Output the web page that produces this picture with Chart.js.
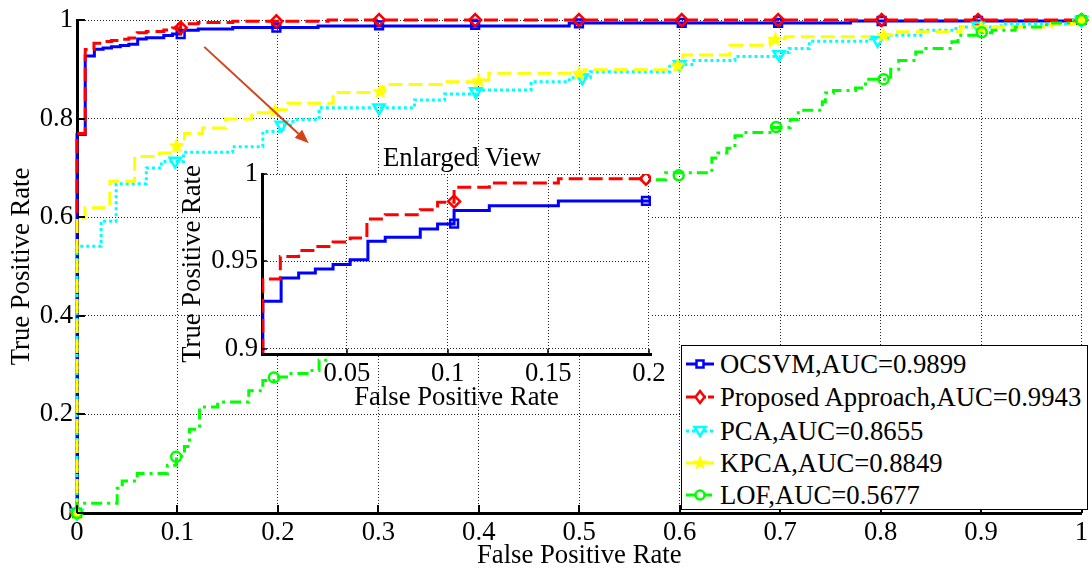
<!DOCTYPE html>
<html>
<head>
<meta charset="utf-8">
<script src="https://cdn.jsdelivr.net/npm/chart.js@4/dist/chart.umd.min.js"></script>
<style>
  html, body { margin: 0; padding: 0; background: #fff; }
  #wrap { position: relative; width: 1092px; height: 572px; overflow: hidden;
          font-family: "Liberation Serif", "Times New Roman", serif; color: #000; }
  #main { position: absolute; left: 0; top: 0; }
  #inset { position: absolute; left: 171px; top: 130px; }
  #insetTitle { position: absolute; left: 362px; top: 142px; width: 200px; text-align: center;
                font-size: 26.7px; line-height: 30px; white-space: nowrap; }
  #legend { position: absolute; left: 681px; top: 345px; width: 407px; height: 165px;
            box-sizing: border-box; background: #fff; border: 1px solid #000; font-size: 26.7px; }
  .row { position: absolute; left: 4px; height: 30px; line-height: 30px; white-space: nowrap; }
  .row svg { position: absolute; left: 0; top: 5px; }
  .row span { position: absolute; left: 34px; top: 0; }
</style>
</head>
<body>
<div id="wrap">
  <canvas id="main" width="1092" height="572"></canvas>
  <canvas id="inset" width="509" height="290"></canvas>
  <div id="insetTitle">Enlarged View</div>
  <div id="legend"></div>
</div>
<script>
// tick values / labels
const xTicks = [0, 0.1, 0.2, 0.3, 0.4, 0.5, 0.6, 0.7, 0.8, 0.9, 1];
const xTickLabels = ['0', '0.1', '0.2', '0.3', '0.4', '0.5', '0.6', '0.7', '0.8', '0.9', '1'];
const yTicks = [0, 0.2, 0.4, 0.6, 0.8, 1];
const yTickLabels = ['0', '0.2', '0.4', '0.6', '0.8', '1'];
const insetXTicks = [0.05, 0.1, 0.15, 0.2];
const insetXTickLabels = ['0.05', '0.1', '0.15', '0.2'];
const insetYTicks = [0.9, 0.95, 1];
const insetYTickLabels = ['0.9', '0.95', '1'];

const seriesNames = ['OCSVM,AUC=0.9899', 'Proposed Approach,AUC=0.9943', 'PCA,AUC=0.8655',
                     'KPCA,AUC=0.8849', 'LOF,AUC=0.5677'];

// ROC curves (FPR, TPR)
const ocsvmFpr = [0, 0, 0.0082, 0.0173, 0.026, 0.0343, 0.0431, 0.0516, 0.0604, 0.069, 0.0864, 0.095, 0.1032, 0.1207, 0.155, 0.24, 0.49, 0.77, 1.0];
const ocsvmTpr = [0, 0.768, 0.9272, 0.9406, 0.9434, 0.9457, 0.9482, 0.951, 0.9615, 0.9638, 0.9686, 0.9714, 0.9792, 0.9819, 0.9846, 0.988, 0.994, 0.998, 1.0];

const propFpr = [0, 0, 0.0082, 0.0169, 0.026, 0.0343, 0.0431, 0.0516, 0.0599, 0.069, 0.0864, 0.095, 0.1032, 0.1207, 0.155, 0.25, 1.0];
const propTpr = [0, 0.770, 0.940, 0.9529, 0.9563, 0.9586, 0.9611, 0.9634, 0.9743, 0.9767, 0.9796, 0.9838, 0.9924, 0.9949, 0.9973, 1.0, 1.0];

const pcaFpr = [0, 0, 0.024, 0.039, 0.069, 0.084, 0.106, 0.155, 0.185, 0.205, 0.215, 0.241, 0.336, 0.366, 0.397, 0.452, 0.49, 0.511, 0.59, 0.614, 0.655, 0.70, 0.709, 0.729, 0.79, 0.81, 0.84, 0.875, 0.92, 0.99, 1.0];
const pcaTpr = [0, 0.541, 0.592, 0.668, 0.700, 0.713, 0.732, 0.743, 0.774, 0.787, 0.798, 0.822, 0.838, 0.850, 0.858, 0.875, 0.883, 0.895, 0.910, 0.918, 0.926, 0.934, 0.942, 0.957, 0.963, 0.969, 0.979, 0.986, 0.992, 1.0, 1.0];

const kpcaFpr = [0, 0, 0.008, 0.0327, 0.0574, 0.082, 0.099, 0.107, 0.125, 0.148, 0.174, 0.197, 0.21, 0.255, 0.305, 0.365, 0.40, 0.41, 0.505, 0.599, 0.603, 0.65, 0.69, 0.705, 0.80, 0.812, 0.88, 0.97, 1.0];
const kpcaTpr = [0, 0.599, 0.619, 0.673, 0.723, 0.73, 0.747, 0.77, 0.781, 0.799, 0.812, 0.818, 0.831, 0.853, 0.869, 0.875, 0.878, 0.892, 0.899, 0.909, 0.929, 0.949, 0.962, 0.966, 0.970, 0.976, 0.986, 0.993, 1.0];

const lofFpr = [0, 0, 0.04, 0.045, 0.06, 0.09, 0.099, 0.107, 0.112, 0.122, 0.14, 0.171, 0.185, 0.196, 0.211, 0.231, 0.241, 0.25, 0.30, 0.40, 0.50, 0.565, 0.586, 0.632, 0.638, 0.647, 0.655, 0.663, 0.69, 0.71, 0.718, 0.742, 0.745, 0.753, 0.775, 0.785, 0.81, 0.818, 0.835, 0.845, 0.871, 0.877, 0.90, 0.911, 0.934, 0.965, 0.99, 1.0];
const lofTpr = [0, 0.02, 0.05, 0.065, 0.08, 0.097, 0.115, 0.135, 0.17, 0.215, 0.225, 0.248, 0.269, 0.276, 0.283, 0.289, 0.31, 0.33, 0.42, 0.55, 0.64, 0.676, 0.69, 0.72, 0.73, 0.74, 0.765, 0.772, 0.782, 0.798, 0.817, 0.834, 0.852, 0.857, 0.862, 0.88, 0.90, 0.918, 0.935, 0.942, 0.956, 0.969, 0.974, 0.979, 0.986, 0.994, 0.998, 1.0];

// marker positions on each curve
const ocsvmMarkFpr = [0, 0.1032, 0.1985, 0.3007, 0.3964, 0.4997, 0.602, 0.698, 0.801, 0.897, 1];
const ocsvmMarkTpr = [0, 0.9716, 0.9846, 0.989, 0.990, 0.993, 0.994, 0.994, 0.998, 0.998, 1];
const propMarkFpr = [0, 0.1032, 0.1985, 0.3007, 0.3964, 0.4997, 0.602, 0.698, 0.801, 0.897, 1];
const propMarkTpr = [0, 0.9843, 0.9973, 1, 1, 1, 1, 1, 1, 1, 1];
const pcaMarkFpr = [0, 0.0977, 0.2035, 0.3007, 0.397, 0.503, 0.60, 0.699, 0.797, 0.897, 1];
const pcaMarkTpr = [0, 0.714, 0.787, 0.822, 0.855, 0.883, 0.91, 0.93, 0.959, 0.988, 1];
const kpcaMarkFpr = [0, 0.099, 0.197, 0.3017, 0.40, 0.4997, 0.598, 0.695, 0.803, 0.90, 1];
const kpcaMarkTpr = [0, 0.746, 0.817, 0.856, 0.878, 0.893, 0.909, 0.962, 0.970, 0.986, 1];
const lofMarkFpr = [0, 0.0987, 0.196, 0.30, 0.40, 0.50, 0.599, 0.696, 0.803, 0.9007, 1];
const lofMarkTpr = [0, 0.114, 0.275, 0.42, 0.55, 0.64, 0.685, 0.783, 0.88, 0.975, 1];

const pts = (xs, ys) => xs.map((x, i) => ({ x: x, y: ys[i] }));

const serif = "'Liberation Serif', 'Times New Roman', serif";
Chart.defaults.font.family = serif;
Chart.defaults.font.size = 26.7;
Chart.defaults.color = '#000';

// filled five point star, used as point style for KPCA
function starImage(r, color) {
  const c = document.createElement('canvas');
  const s = Math.ceil(r * 2 + 2);
  c.width = c.height = s;
  const g = c.getContext('2d');
  g.fillStyle = color;
  g.beginPath();
  for (let i = 0; i < 10; i++) {
    const rr = i % 2 ? r * 0.42 : r;
    const a = -Math.PI / 2 + i * Math.PI / 5;
    g.lineTo(s / 2 + rr * Math.cos(a), s / 2 + rr * Math.sin(a) + 0.8);
  }
  g.closePath();
  g.fill();
  return c;
}
const star = starImage(8.5, '#ffff00');

const styles = {
  ocsvm: { color: '#0000ff', dash: [], width: 3, point: 'rect', radius: 5.5 },
  prop:  { color: '#ff0000', dash: [14, 6], width: 3, point: 'rectRot', radius: 6 },
  pca:   { color: '#00ffff', dash: [3, 3], width: 3, point: 'triangle', radius: 6.5, rot: 180 },
  kpca:  { color: '#ffff00', dash: [14, 6], width: 3, point: star, radius: 8 },
  lof:   { color: '#00ff00', dash: [11, 5, 3, 5], width: 3, point: 'circle', radius: 5 }
};

function lineSet(xs, ys, st, order, clip) {
  return {
    data: pts(xs, ys), stepped: 'before', borderColor: st.color, borderWidth: st.width,
    borderDash: st.dash, pointRadius: 0, fill: false, order: order, clip: clip
  };
}
function markSet(xs, ys, st, order, clip) {
  return {
    data: pts(xs, ys), showLine: false, pointStyle: st.point, pointRadius: st.radius,
    pointRotation: st.rot || 0, pointBorderColor: st.color, pointBackgroundColor: 'rgba(255,255,255,0)',
    pointBorderWidth: 2.5, order: order, clip: clip
  };
}

// MATLAB style tick marks pointing into the axes
const inwardTicks = {
  id: 'inwardTicks',
  afterDraw(chart, args, opts) {
    const { ctx, chartArea: a, scales: { x, y } } = chart;
    ctx.save();
    ctx.strokeStyle = '#000';
    ctx.lineWidth = opts.width;
    ctx.beginPath();
    x.ticks.forEach(t => {
      const px = Math.round(x.getPixelForValue(t.value));
      ctx.moveTo(px, a.bottom); ctx.lineTo(px, a.bottom - opts.length);
    });
    y.ticks.forEach(t => {
      const py = Math.round(y.getPixelForValue(t.value));
      ctx.moveTo(a.left, py); ctx.lineTo(a.left + opts.length, py);
    });
    ctx.stroke();
    ctx.restore();
  }
};

// white face for the inset axes
const insetFace = {
  id: 'insetFace',
  beforeDraw(chart) {
    const { ctx, chartArea: a } = chart;
    ctx.save();
    ctx.fillStyle = '#fff';
    ctx.fillRect(a.left, a.top, a.right - a.left, a.bottom - a.top);
    ctx.restore();
  }
};

// pointer arrow towards the inset
const arrow = {
  id: 'arrow',
  afterDatasetsDraw(chart, args, opts) {
    const { ctx, scales: { x, y } } = chart;
    const x0 = x.getPixelForValue(opts.from[0]), y0 = y.getPixelForValue(opts.from[1]);
    const x1 = x.getPixelForValue(opts.to[0]), y1 = y.getPixelForValue(opts.to[1]);
    const ang = Math.atan2(y1 - y0, x1 - x0);
    const hl = 14, hw = 5.5;
    ctx.save();
    ctx.strokeStyle = opts.color; ctx.fillStyle = opts.color; ctx.lineWidth = 2;
    ctx.beginPath();
    ctx.moveTo(x0, y0);
    ctx.lineTo(x1 - hl * Math.cos(ang), y1 - hl * Math.sin(ang));
    ctx.stroke();
    ctx.beginPath();
    ctx.moveTo(x1, y1);
    ctx.lineTo(x1 - hl * Math.cos(ang) + hw * Math.sin(ang), y1 - hl * Math.sin(ang) - hw * Math.cos(ang));
    ctx.lineTo(x1 - hl * Math.cos(ang) - hw * Math.sin(ang), y1 - hl * Math.sin(ang) + hw * Math.cos(ang));
    ctx.closePath();
    ctx.fill();
    ctx.restore();
  }
};

function axis(opts) {
  return {
    type: 'linear', min: opts.min, max: opts.max,
    afterBuildTicks: s => { s.ticks = opts.ticks.map(v => ({ value: v })); },
    afterFit: s => {
      if (opts.width) s.width = opts.width;
      if (opts.height) s.height = opts.height;
      s.paddingLeft = 0; s.paddingRight = 0;
    },
    ticks: { autoSkip: false, maxRotation: 0, padding: opts.pad, callback: (v, i) => opts.labels[i] },
    grid: { color: '#222', lineWidth: 1, drawTicks: false },
    border: { display: true, color: '#000', width: 3, dash: [1, 2] },
    title: { display: true, text: opts.title, padding: opts.titlePad }
  };
}

const mainClip = 10;
new Chart(document.getElementById('main'), {
  type: 'line',
  data: {
    datasets: [
      markSet(ocsvmMarkFpr, ocsvmMarkTpr, styles.ocsvm, 4, mainClip),
      markSet(propMarkFpr, propMarkTpr, styles.prop, 3, mainClip),
      markSet(pcaMarkFpr, pcaMarkTpr, styles.pca, 2, mainClip),
      markSet(kpcaMarkFpr, kpcaMarkTpr, styles.kpca, 1, mainClip),
      markSet(lofMarkFpr, lofMarkTpr, styles.lof, 0, mainClip),
      lineSet(ocsvmFpr, ocsvmTpr, styles.ocsvm, 9, mainClip),
      lineSet(propFpr, propTpr, styles.prop, 8, mainClip),
      lineSet(pcaFpr, pcaTpr, styles.pca, 7, mainClip),
      lineSet(kpcaFpr, kpcaTpr, styles.kpca, 6, mainClip),
      lineSet(lofFpr, lofTpr, styles.lof, 5, mainClip)
    ]
  },
  options: {
    responsive: false, animation: false, events: [],
    layout: { padding: { left: 0, top: 18, right: 5, bottom: 0 } },
    plugins: {
      legend: { display: false }, tooltip: { enabled: false },
      inwardTicks: { length: 8, width: 2 },
      arrow: { from: [0.1267, 0.9455], to: [0.2307, 0.750], color: '#d4421a' }
    },
    scales: {
      x: axis({ min: 0, max: 1, ticks: xTicks, labels: xTickLabels, height: 59, pad: 4,
                title: 'False Positive Rate', titlePad: { top: 0, bottom: 0 } }),
      y: axis({ min: 0, max: 1, ticks: yTicks, labels: yTickLabels, width: 77, pad: 4,
                title: 'True Positive Rate', titlePad: { top: 6, bottom: 0 } })
    }
  },
  plugins: [inwardTicks, arrow]
});

new Chart(document.getElementById('inset'), {
  type: 'line',
  data: {
    datasets: [
      markSet(ocsvmMarkFpr, ocsvmMarkTpr, styles.ocsvm, 1, 0),
      markSet(propMarkFpr, propMarkTpr, styles.prop, 0, 0),
      lineSet(ocsvmFpr, ocsvmTpr, styles.ocsvm, 3, 0),
      lineSet(propFpr, propTpr, styles.prop, 2, 0)
    ]
  },
  options: {
    responsive: false, animation: false, events: [],
    layout: { padding: { left: 0, top: 44, right: 29, bottom: 0 } },
    plugins: { legend: { display: false }, tooltip: { enabled: false }, inwardTicks: { length: 5, width: 1.5 } },
    scales: {
      x: axis({ min: 0.0078, max: 0.201, ticks: insetXTicks, labels: insetXTickLabels, height: 66, pad: 4,
                title: 'False Positive Rate', titlePad: { top: 0, bottom: 6 } }),
      y: axis({ min: 0.8971, max: 1, ticks: insetYTicks, labels: insetYTickLabels, width: 91, pad: 4,
                title: 'True Positive Rate', titlePad: { top: 6, bottom: 0 } })
    }
  },
  plugins: [insetFace, inwardTicks]
});

// legend: line sample with marker, then the label
const icons = [
  '<line x1="0" y1="10" x2="28" y2="10" stroke="#0000ff" stroke-width="3"/><rect x="10.5" y="6.5" width="7" height="7" fill="#fff" stroke="#0000ff" stroke-width="2.5"/>',
  '<line x1="0" y1="10" x2="28" y2="10" stroke="#ff0000" stroke-width="3" stroke-dasharray="9 2"/><polygon points="14,4 18.5,10 14,16 9.5,10" fill="#fff" stroke="#ff0000" stroke-width="2.5"/>',
  '<line x1="0" y1="10" x2="28" y2="10" stroke="#00ffff" stroke-width="3" stroke-dasharray="3 3"/><polygon points="8.5,6 19.5,6 14,15" fill="#fff" stroke="#00ffff" stroke-width="2.5"/>',
  '<line x1="0" y1="10" x2="28" y2="10" stroke="#ffff00" stroke-width="3"/><polygon points="14,2 15.9,7.6 21.6,7.6 17,11.1 18.7,16.7 14,13.3 9.3,16.7 11,11.1 6.4,7.6 12.1,7.6" fill="#ffff00"/>',
  '<line x1="0" y1="10" x2="28" y2="10" stroke="#00ff00" stroke-width="3" stroke-dasharray="9 3 2 3"/><circle cx="14" cy="10" r="4.5" fill="#fff" stroke="#00ff00" stroke-width="2.5"/>'
];
const rowCenters = [19, 52, 85.5, 117.5, 150];
const legend = document.getElementById('legend');
seriesNames.forEach((name, i) => {
  const row = document.createElement('div');
  row.className = 'row';
  row.style.top = (rowCenters[i] - 1 - 15) + 'px';
  row.innerHTML = '<svg width="28" height="20" viewBox="0 0 28 20">' + icons[i] + '</svg><span></span>';
  row.querySelector('span').textContent = name;
  legend.appendChild(row);
});
</script>
</body>
</html>
